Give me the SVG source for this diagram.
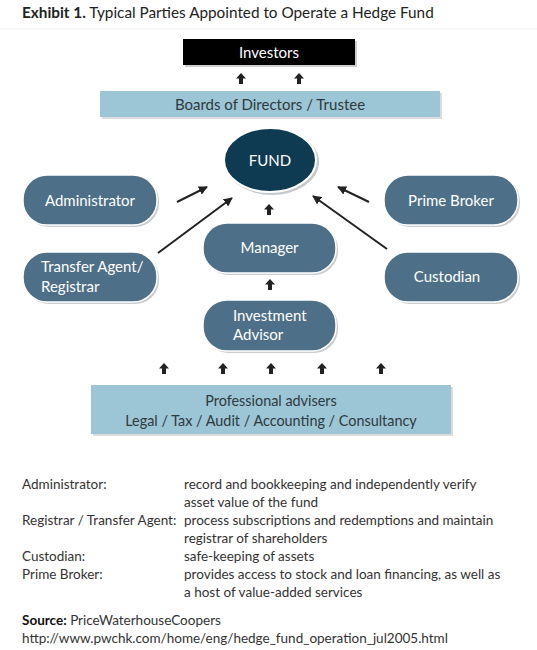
<svg xmlns="http://www.w3.org/2000/svg" width="537" height="650" viewBox="0 0 537 650">
<defs>
<style>
text{font-family:Lato,"Open Sans","Liberation Sans",sans-serif}
.node{fill:#4e6f88;stroke:#ffffff;stroke-width:1.5}
.shadow{fill:#c9cdd0}
.lbl{fill:#ffffff;font-size:15px;text-anchor:middle}
.lbll{fill:#ffffff;font-size:15px}
.band{fill:#9cc5d5}
.btxt{fill:#2f3a40;font-size:15px;text-anchor:middle}
.conn{stroke:#222;stroke-width:2;fill:none;marker-end:url(#ah)}
.body{fill:#333;font-size:13.5px}
</style>
<marker id="ah" viewBox="0 0 10 10" refX="9" refY="5" markerWidth="4.5" markerHeight="4.5" orient="auto" markerUnits="strokeWidth">
<path d="M0,0 L10,5 L0,10 z" fill="#222"/>
</marker>
<path id="up" d="M0,0 L5,5.5 L2,5.5 L2,11 L-2,11 L-2,5.5 L-5,5.5 z" fill="#222"/>
</defs>
<rect width="537" height="650" fill="#ffffff"/>
<text x="22" y="18" style="font-size:15.3px;fill:#222"><tspan font-weight="bold">Exhibit 1.</tspan> Typical Parties Appointed to Operate a Hedge Fund</text>
<line x1="0" y1="29" x2="537" y2="29" stroke="#f0f0f0" stroke-width="1"/>

<g id="investors">
<rect x="185" y="41" width="172" height="26" fill="#cfcfcf"/>
<rect x="183" y="39" width="172" height="26" fill="#000"/>
<text x="269" y="57.5" class="lbl">Investors</text>
</g>
<g id="boards">
<rect x="102" y="93" width="340" height="26" fill="#dcdcdc"/>
<rect x="100" y="91" width="340" height="26" class="band"/>
<text x="270" y="109.5" class="btxt">Boards of Directors / Trustee</text>
</g>
<g id="fund">
<ellipse cx="272" cy="162" rx="47" ry="33" fill="#c4c8cc"/>
<ellipse cx="270" cy="160" rx="46" ry="32" fill="#0e3a52" stroke="#fff" stroke-width="2"/>
<text x="270" y="165.5" class="lbl">FUND</text>
</g>
<g id="administrator">
<rect x="25" y="177" width="134" height="50" rx="24" class="shadow"/>
<rect x="23" y="175" width="134" height="50" rx="24" class="node"/>
<text x="90" y="205.5" class="lbl">Administrator</text>
</g>
<g id="prime-broker">
<rect x="386" y="177" width="134" height="50" rx="24" class="shadow"/>
<rect x="384" y="175" width="134" height="50" rx="24" class="node"/>
<text x="451" y="205.5" class="lbl">Prime Broker</text>
</g>
<g id="manager">
<rect x="205" y="225" width="133" height="50" rx="24" class="shadow"/>
<rect x="203" y="223" width="133" height="50" rx="24" class="node"/>
<text x="269.5" y="253" class="lbl">Manager</text>
</g>
<g id="transfer-agent">
<rect x="25" y="254" width="134" height="50" rx="24" class="shadow"/>
<rect x="23" y="252" width="134" height="50" rx="24" class="node"/>
<text x="41" y="272" class="lbll">Transfer Agent/</text>
<text x="41" y="292" class="lbll">Registrar</text>
</g>
<g id="custodian">
<rect x="386" y="254" width="134" height="50" rx="24" class="shadow"/>
<rect x="384" y="252" width="134" height="50" rx="24" class="node"/>
<text x="447" y="282" class="lbl">Custodian</text>
</g>
<g id="investment-advisor">
<rect x="205" y="302" width="133" height="51" rx="24" class="shadow"/>
<rect x="203" y="300" width="133" height="51" rx="24" class="node"/>
<text x="233" y="321" class="lbll">Investment</text>
<text x="233" y="340" class="lbll">Advisor</text>
</g>
<g id="professional-advisers">
<rect x="93" y="387" width="360" height="49" fill="#dcdcdc"/>
<rect x="91" y="385" width="360" height="49" class="band"/>
<text x="271" y="406" class="btxt" style="font-size:14.4px">Professional advisers</text>
<text x="271" y="426" class="btxt" style="font-size:14.4px">Legal / Tax / Audit / Accounting / Consultancy</text>
</g>

<g id="connectors">
<use href="#up" x="241" y="73"/>
<use href="#up" x="299" y="73"/>
<line x1="177" y1="202" x2="207" y2="187" class="conn"/>
<line x1="158" y1="253" x2="232" y2="198" class="conn"/>
<line x1="369" y1="202" x2="338" y2="187" class="conn"/>
<line x1="387" y1="249" x2="313" y2="196" class="conn"/>
<use href="#up" x="269" y="204"/>
<use href="#up" x="270" y="279"/>
<use href="#up" x="164" y="363"/>
<use href="#up" x="223" y="363"/>
<use href="#up" x="271" y="363"/>
<use href="#up" x="322" y="363"/>
<use href="#up" x="381" y="363"/>
</g>

<g id="legend">
<text x="22" y="489" class="body">Administrator:</text>
<text x="184" y="489" class="body">record and bookkeeping and independently verify</text>
<text x="184" y="507" class="body">asset value of the fund</text>
<text x="22" y="525" class="body">Registrar / Transfer Agent:</text>
<text x="184" y="525" class="body">process subscriptions and redemptions and maintain</text>
<text x="184" y="543" class="body">registrar of shareholders</text>
<text x="22" y="561" class="body">Custodian:</text>
<text x="184" y="561" class="body">safe-keeping of assets</text>
<text x="22" y="579" class="body">Prime Broker:</text>
<text x="184" y="579" class="body">provides access to stock and loan financing, as well as</text>
<text x="184" y="597" class="body">a host of value-added services</text>
<text x="22" y="625" class="body"><tspan font-weight="bold" fill="#111">Source:</tspan> PriceWaterhouseCoopers</text>
<text x="22" y="643" class="body">http://www.pwchk.com/home/eng/hedge_fund_operation_jul2005.html</text>
</g>
</svg>
